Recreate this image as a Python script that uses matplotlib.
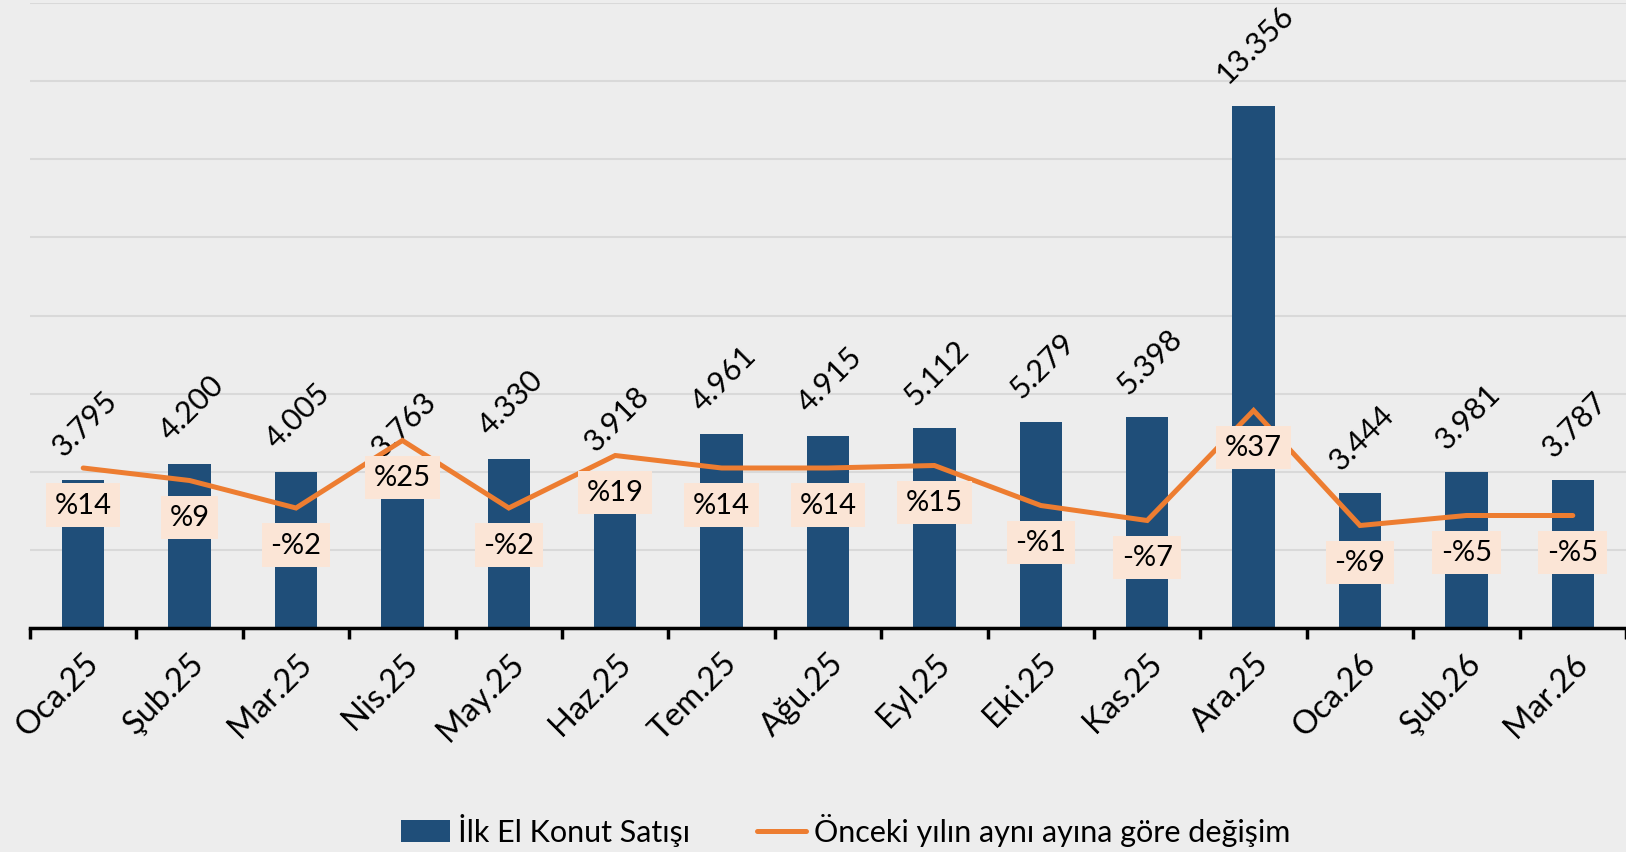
import matplotlib
matplotlib.use("Agg")
import matplotlib.pyplot as plt
from matplotlib.patches import Patch
from matplotlib.lines import Line2D
import numpy as np

plt.rcParams["font.family"] = ["Lato", "DejaVu Sans"]

MONTHS = ["Oca.25", "Şub.25", "Mar.25", "Nis.25", "May.25", "Haz.25", "Tem.25",
          "Ağu.25", "Eyl.25", "Eki.25", "Kas.25", "Ara.25", "Oca.26", "Şub.26", "Mar.26"]
SALES = [3795, 4200, 4005, 3763, 4330, 3918, 4961, 4915, 5112, 5279, 5398, 13356,
         3444, 3981, 3787]
YOY_CHANGE = [14, 9, -2, 25, -2, 19, 14, 14, 15, -1, -7, 37, -9, -5, -5]

BAR_COLOR = "#1F4E79"
LINE_COLOR = "#ED7D31"
BOX_COLOR = "#FBE5D6"
BG_COLOR = "#EDEDED"
GRID_COLOR = "#D9D9D9"

W, H = 1626, 853
fig = plt.figure(figsize=(W / 100, H / 100), dpi=100, facecolor=BG_COLOR)
ax = fig.add_axes([30 / W, 1 - 629 / H, 1 - 30 / W, (629 - 4) / H])
ax.set_facecolor(BG_COLOR)

x = np.arange(len(MONTHS))

# bars + rotated value labels
ax.bar(x, SALES, width=0.4, color=BAR_COLOR, zorder=2)
for xi, v in zip(x, SALES):
    label = f"{v:,}".replace(",", ".")
    ax.annotate(label, (xi, v), xytext=(2, 19), textcoords="offset pixels",
                rotation=45, ha="center", va="bottom", fontsize=22, color="black")

ax.set_xlim(-0.5, len(MONTHS) - 0.5)
ax.set_ylim(0, 16000)
ax.set_yticks(np.arange(0, 16001, 2000))
ax.yaxis.grid(True, color=GRID_COLOR, linewidth=1.5, zorder=0)
ax.set_axisbelow(True)
for side in ["left", "right", "top"]:
    ax.spines[side].set_visible(False)
ax.spines["bottom"].set_linewidth(2.5)
ax.spines["bottom"].set_color("black")

# ticks between categories, labels at the centers
ax.set_xticks(np.arange(-0.5, len(MONTHS), 1.0))
ax.set_xticklabels([])
ax.tick_params(axis="x", which="major", length=8, width=2.5, color="black")
ax.set_xticks(x, minor=True)
ax.set_xticklabels(MONTHS, minor=True, rotation=45, ha="right", va="top",
                   rotation_mode="anchor", fontsize=23.5)
ax.tick_params(axis="x", which="minor", length=0, pad=14)

# yoy change line on a hidden second axis
ax2 = ax.twinx()
ax2.set_ylim(-50, 200)
ax2.axis("off")
# twinx turns the left ticks back on
ax.tick_params(axis="y", which="both", left=False, right=False,
               labelleft=False, labelright=False)
ax2.plot(x, YOY_CHANGE, color=LINE_COLOR, linewidth=3.6, solid_capstyle="round",
         solid_joinstyle="miter", zorder=3)
for xi, p in zip(x, YOY_CHANGE):
    label = f"%{p}" if p >= 0 else f"-%{abs(p)}"
    ax2.annotate(label, (xi, p), xytext=(0, -37), textcoords="offset pixels",
                 ha="center", va="center", fontsize=21, color="black", zorder=4,
                 bbox=dict(boxstyle="square,pad=0.3", facecolor=BOX_COLOR,
                           edgecolor="none"))

handles = [Patch(facecolor=BAR_COLOR, edgecolor="none"),
           Line2D([0], [0], color=LINE_COLOR, linewidth=3.6, solid_capstyle="round")]
fig.legend(handles, ["İlk El Konut Satışı", "Önceki yılın aynı ayına göre değişim"],
           loc="center", bbox_to_anchor=(0.52, 1 - 831 / H), ncol=2, frameon=False,
           fontsize=22, handlelength=1.6, handletextpad=0.25, columnspacing=2.2)

fig.savefig("out.png", dpi=100, facecolor=BG_COLOR)
